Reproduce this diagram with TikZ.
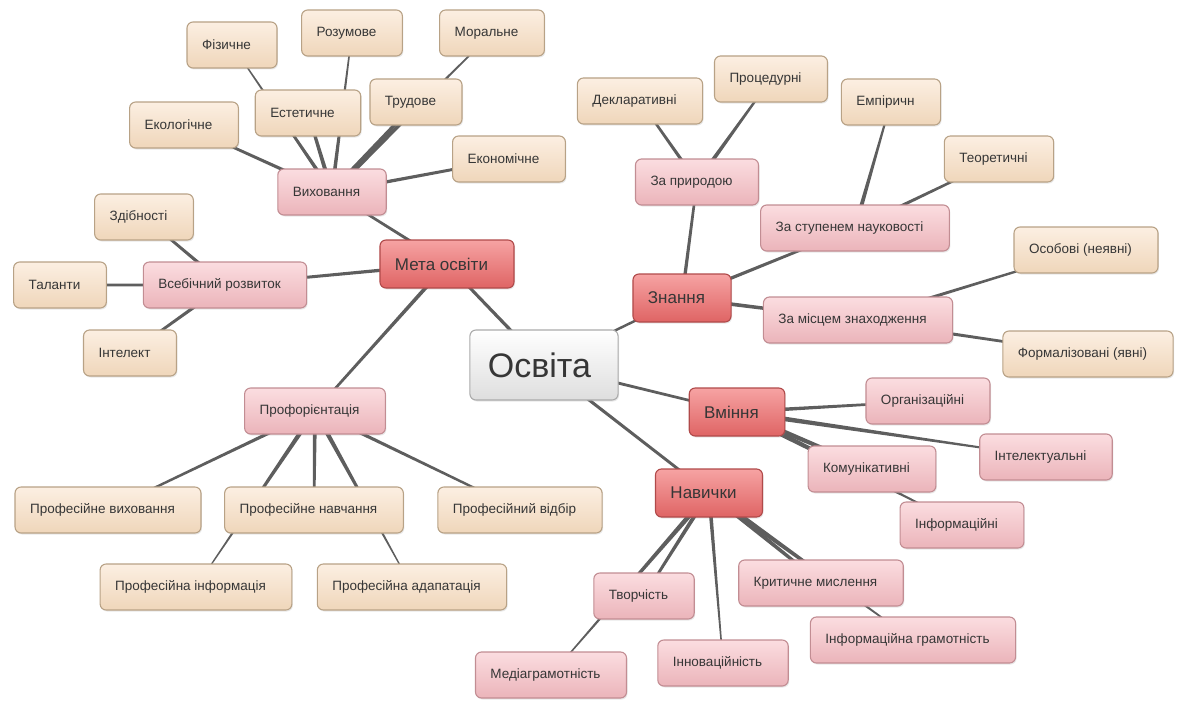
\documentclass[tikz,border=0pt]{standalone}
\usepackage{fontspec}
\setmainfont{Liberation Sans}
\usetikzlibrary{calc, backgrounds, shadows}

\definecolor{txt}{HTML}{363636}
\definecolor{edgec}{HTML}{5E5E5E}
\definecolor{tantop}{HTML}{FCEFE2}
\definecolor{tanbot}{HTML}{EFD6BA}
\definecolor{tanline}{HTML}{B8A286}
\definecolor{pinktop}{HTML}{FBDDE0}
\definecolor{pinkbot}{HTML}{EBB4BA}
\definecolor{pinkline}{HTML}{C28D93}
\definecolor{redtop}{HTML}{F6A3A3}
\definecolor{redbot}{HTML}{DF6464}
\definecolor{redline}{HTML}{B04A4A}
\definecolor{roottop}{HTML}{FFFFFF}
\definecolor{rootbot}{HTML}{DEDEDE}
\definecolor{rootline}{HTML}{ABABAB}

% tapered branch: parent, child, half width at parent, half width at child
\newcommand{\link}[4]{%
  \fill[edgec] ($(#1.center)!#3pt!90:(#2.center)$) -- ($(#2.center)!#4pt!-90:(#1.center)$)
    -- ($(#2.center)!#4pt!90:(#1.center)$) -- ($(#1.center)!#3pt!-90:(#2.center)$) -- cycle;}

\begin{document}
\begin{tikzpicture}[
    x=1pt, y=-1pt,
    font=\fontsize{13.5}{15}\selectfont,
    text=txt,
    base/.style = {
        rectangle, rounded corners=6pt, line width=1.1pt,
        inner xsep=0pt, inner ysep=0pt, minimum height=46pt,
        drop shadow={shadow xshift=1pt, shadow yshift=-1.5pt, opacity=0.18}
    },
    padded/.style = {
        execute at begin node=\hspace*{15pt},
        execute at end node=\hspace*{26pt}
    },
    leaf/.style = {base, padded, draw=tanline, top color=tantop, bottom color=tanbot},
    sub/.style = {base, padded, draw=pinkline, top color=pinktop, bottom color=pinkbot},
    topic/.style = {base, padded, draw=redline, top color=redtop, bottom color=redbot,
        minimum height=48pt, font=\fontsize{17}{20}\selectfont},
    root/.style = {base, draw=rootline, top color=roottop, bottom color=rootbot,
        minimum height=70pt, font=\fontsize{34}{38}\selectfont,
        execute at begin node=\hspace*{18pt},
        execute at end node=\hspace*{27pt}}
]
\useasboundingbox (0,0) rectangle (1181,701);

% ---- Centre and main topics ----
\node[root] (osvita) at (544,365) {Освіта};
\node[topic] (meta) at (447,264) {Мета освіти};
\node[topic] (znannia) at (682,298) {Знання};
\node[topic] (vminnia) at (737,412) {Вміння};
\node[topic] (navychky) at (709,493) {Навички};

% ---- Мета освіти ----
\node[sub] (vykhov) at (332,192) {Виховання};
\node[sub] (rozvytok) at (225,285) {Всебічний розвиток};
\node[sub] (proforient) at (315,411) {Профорієнтація};

\node[leaf] (fizychne) at (232,45) {Фізичне};
\node[leaf] (rozumove) at (352,33) {Розумове};
\node[leaf] (moralne) at (492,33) {Моральне};
\node[leaf] (estet) at (308,113) {Естетичне};
\node[leaf] (trudove) at (416,102) {Трудове};
\node[leaf] (ekolog) at (184,125) {Екологічне};
\node[leaf] (ekonom) at (509,159) {Економічне};

\node[leaf] (zdibn) at (144,217) {Здібності};
\node[leaf] (talanty) at (60,285) {Таланти};
\node[leaf] (intelekt) at (130,353) {Інтелект};

\node[leaf] (prvykh) at (108,510) {Професійне виховання};
\node[leaf] (prnavch) at (314,510) {Професійне навчання};
\node[leaf] (prvidbir) at (520,510) {Професійний відбір};
\node[leaf] (prinform) at (196,587) {Професійна інформація};
\node[leaf] (pradapt) at (412,587) {Професійна адапатація};

% ---- Знання ----
\node[sub] (pryroda) at (697,182) {За природою};
\node[sub] (stupin) at (855,228) {За ступенем науковості};
\node[sub] (mistse) at (858,320) {За місцем знаходження};

\node[leaf] (deklar) at (640,101) {Декларативні};
\node[leaf] (protsed) at (771,79) {Процедурні};
\node[leaf] (empir) at (891,102) {Емпіричн};
\node[leaf] (teoret) at (999,159) {Теоретичні};
\node[leaf] (osobovi) at (1086,250) {Особові (неявні)};
\node[leaf] (formal) at (1088,354) {Формалізовані (явні)};

% ---- Вміння ----
\node[sub] (orhaniz) at (928,401) {Організаційні};
\node[sub] (intelekt2) at (1046,457) {Інтелектуальні};
\node[sub] (komunik) at (872,469) {Комунікативні};
\node[sub] (inform) at (962,525) {Інформаційні};

% ---- Навички ----
\node[sub] (tvorch) at (644,596) {Творчість};
\node[sub] (media) at (551,675) {Медіаграмотність};
\node[sub] (innov) at (723,663) {Інноваційність};
\node[sub] (krytych) at (821,583) {Критичне мислення};
\node[sub] (infgram) at (913,640) {Інформаційна грамотність};

% ---- Branches ----
\begin{scope}[on background layer]
  \link{osvita}{meta}{1.7}{1.5}
  \link{osvita}{znannia}{1.3}{1.2}
  \link{osvita}{vminnia}{1.5}{1.3}
  \link{osvita}{navychky}{1.6}{1.4}

  \link{meta}{vykhov}{1.6}{1.2}
  \link{meta}{rozvytok}{1.8}{1.3}
  \link{meta}{proforient}{2.0}{1.2}

  \link{vykhov}{fizychne}{2.0}{0.5}
  \link{vykhov}{rozumove}{2.0}{0.6}
  \link{vykhov}{moralne}{2.6}{0.5}
  \link{vykhov}{estet}{2.2}{1.4}
  \link{vykhov}{trudove}{2.8}{1.4}
  \link{vykhov}{ekolog}{1.8}{1.2}
  \link{vykhov}{ekonom}{1.8}{1.3}

  \link{rozvytok}{zdibn}{1.8}{1.2}
  \link{rozvytok}{talanty}{1.5}{1.3}
  \link{rozvytok}{intelekt}{1.8}{1.2}

  \link{proforient}{prvykh}{1.8}{1.0}
  \link{proforient}{prnavch}{2.0}{1.2}
  \link{proforient}{prvidbir}{1.8}{1.0}
  \link{proforient}{prinform}{2.4}{0.4}
  \link{proforient}{pradapt}{2.4}{0.4}

  \link{znannia}{pryroda}{1.8}{1.2}
  \link{znannia}{stupin}{1.8}{1.2}
  \link{znannia}{mistse}{2.0}{1.4}
  \link{pryroda}{deklar}{1.8}{1.1}
  \link{pryroda}{protsed}{2.2}{0.9}
  \link{stupin}{empir}{2.2}{0.8}
  \link{stupin}{teoret}{1.8}{1.0}
  \link{mistse}{osobovi}{1.8}{0.9}
  \link{mistse}{formal}{1.8}{1.1}

  \link{vminnia}{orhaniz}{2.0}{1.0}
  \link{vminnia}{intelekt2}{2.6}{0.6}
  \link{vminnia}{komunik}{2.8}{1.4}
  \link{vminnia}{inform}{2.8}{0.5}

  \link{navychky}{tvorch}{2.2}{1.2}
  \link{navychky}{media}{2.6}{0.5}
  \link{navychky}{innov}{2.0}{0.6}
  \link{navychky}{krytych}{2.4}{1.4}
  \link{navychky}{infgram}{2.8}{0.5}
\end{scope}

\end{tikzpicture}
\end{document}
